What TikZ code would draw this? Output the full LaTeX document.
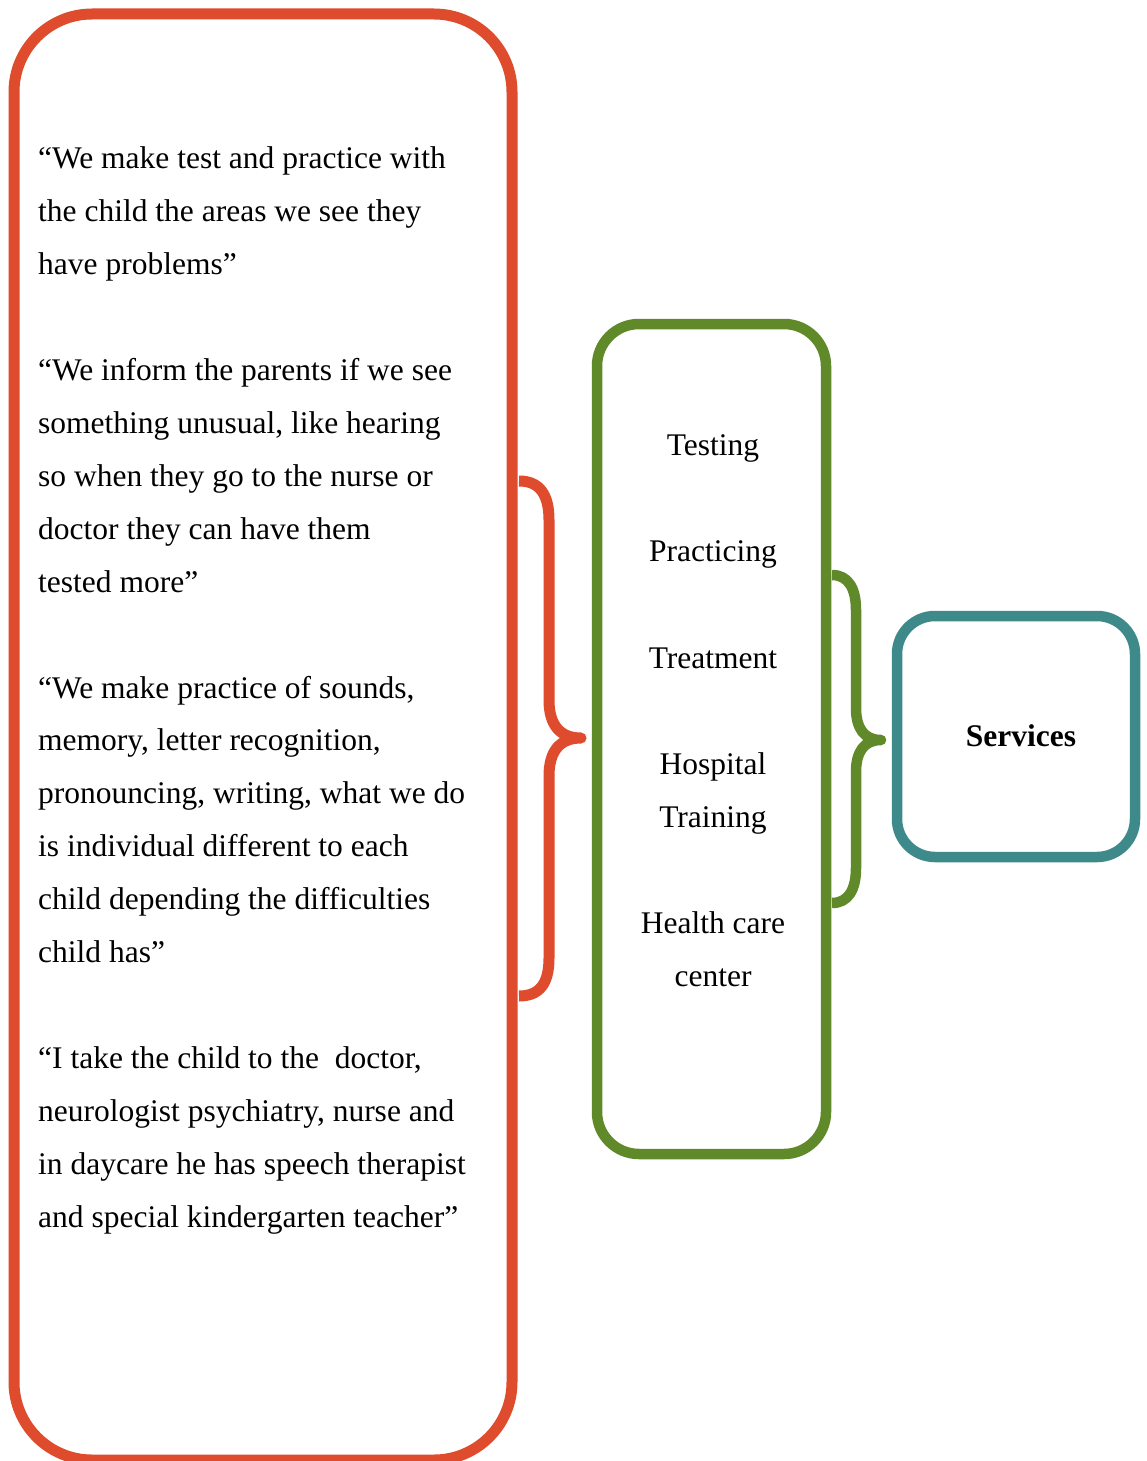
\documentclass[tikz,border=0pt]{standalone}
\usepackage{fontspec}
\setmainfont{Liberation Serif}
\definecolor{quotered}{RGB}{222,75,45}
\definecolor{kindgreen}{RGB}{96,137,42}
\definecolor{servteal}{RGB}{62,138,138}

\begin{document}
\begin{tikzpicture}[x=1pt,y=-1pt,
    txt/.style={inner sep=0pt, font=\fontsize{31.5}{53}\selectfont},
    quoteline/.style={txt, anchor=base west},
    kindline/.style={txt, anchor=base},
    redbox/.style={draw=quotered, line width=11pt, rounded corners=78pt, inner sep=0pt},
    greenbox/.style={draw=kindgreen, line width=10.5pt, rounded corners=42pt, inner sep=0pt},
    tealbox/.style={draw=servteal, line width=10.5pt, rounded corners=38pt, inner sep=0pt},
    bracel/.style={line width=#1, line join=round}]
  \useasboundingbox (0,0) rectangle (1146,1461);

  \node [redbox, minimum width=498pt, minimum height=1446pt] (quotes) at (263,737) {};
  \node [greenbox, minimum width=229pt, minimum height=830pt] (kinds) at (711.5,739) {};
  \node [tealbox, minimum width=238pt, minimum height=241pt] (serv) at (1016,736.5) {};

  \node [quoteline] (q1) at (38,168) {“We make test and practice with};
  \node [quoteline] (q2) at (38,221) {the child the areas we see they};
  \node [quoteline] (q3) at (38,274) {have problems”};
  \node [quoteline] (q4) at (38,380) {“We inform the parents if we see};
  \node [quoteline] (q5) at (38,433) {something unusual, like hearing};
  \node [quoteline] (q6) at (38,486) {so when they go to the nurse or};
  \node [quoteline] (q7) at (38,539) {doctor they can have them};
  \node [quoteline] (q8) at (38,592) {tested more”};
  \node [quoteline] (q9) at (38,698) {“We make practice of sounds,};
  \node [quoteline] (q10) at (38,750) {memory, letter recognition,};
  \node [quoteline] (q11) at (38,803) {pronouncing, writing, what we do};
  \node [quoteline] (q12) at (38,856) {is individual different to each};
  \node [quoteline] (q13) at (38,909) {child depending the difficulties};
  \node [quoteline] (q14) at (38,962) {child has”};
  \node [quoteline] (q15) at (38,1068) {“I take the child to the\ \ doctor,};
  \node [quoteline] (q16) at (38,1121) {neurologist psychiatry, nurse and};
  \node [quoteline] (q17) at (38,1174) {in daycare he has speech therapist};
  \node [quoteline] (q18) at (38,1227) {and special kindergarten teacher”};

  \node [kindline] (k1) at (713,455) {Testing};
  \node [kindline] (k2) at (713,561) {Practicing};
  \node [kindline] (k3) at (713,668) {Treatment};
  \node [kindline] (k4) at (713,774) {Hospital};
  \node [kindline] (k5) at (713,827) {Training};
  \node [kindline] (k6) at (713,933) {Health care};
  \node [kindline] (k7) at (713,986) {center};

  \node [kindline, font=\fontsize{31.5}{53}\selectfont\bfseries] (s1) at (1021,746) {Services};

  \draw [quotered, bracel=11pt] (519,481) .. controls (540,481) and (549,495) .. (549,520)
     -- (549,700) .. controls (549,725) and (560,738) .. (581,738)
     .. controls (560,738) and (549,751) .. (549,776)
     -- (549,958) .. controls (549,983) and (540,996) .. (519,996);
  \draw [kindgreen, bracel=10.5pt] (832,575) .. controls (848,575) and (856,588) .. (856,610)
     -- (856,708) .. controls (856,728) and (864,740) .. (881,740)
     .. controls (864,740) and (856,752) .. (856,772)
     -- (856,868) .. controls (856,890) and (848,903) .. (832,903);
\end{tikzpicture}
\end{document}
